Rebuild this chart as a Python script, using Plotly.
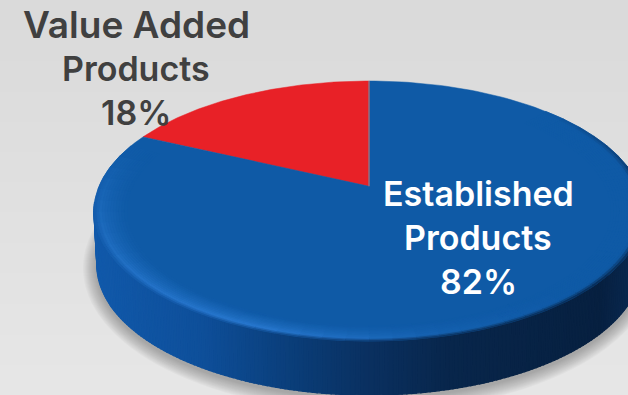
import numpy as np
import plotly.graph_objects as go

# Product mix, in percent
categories = ["Value Added Products", "Established Products"]
shares = [18, 82]
slice_colors = ["#e82127", "#0f5aa6"]
label_lines = [["Value Added", "Products"], ["Established", "Products"]]
label_colors = ["#404040", "#ffffff"]
label_centers = [136, 478]
label_baselines = [[24, 68, 112], [193, 237, 281]]
label_sizes = [[37, 34, 34], [34, 34, 34]]

W, H = 628, 395
CX, CY, RX, RY = 369, 211, 275, 130
BOTTOM_CY, BOTTOM_RX = 265, 272
TILT = 0.19  # perspective shift of the disc's centre towards the far rim


def hex_rgb(c):
    return np.array([int(c[i:i + 2], 16) for i in (1, 3, 5)], float)


def rgb(c):
    return "rgb({:.0f},{:.0f},{:.0f})".format(*c)


def mix(a, b, t):
    return a + (b - a) * t


def rim_point(theta_deg):
    """Point on the top face for a clockwise angle measured from 12 o'clock."""
    t = np.radians(theta_deg)
    u, v = np.sin(t), np.cos(t)
    d = 1 + TILT * v
    return CX + RX * u * np.sqrt(1 - TILT ** 2) / d, CY - RY * (v + TILT) / d


def cx_of(phi, s, rx):
    return CX + rx * s * np.cos(np.radians(phi))


def ellipse(phi, s=1.0, cy=CY, rx=RX, ry=RY):
    return cx_of(phi, s, rx), cy + ry * s * np.sin(np.radians(phi))


def quad(p, color, layer, width=0.8):
    path = "M" + "L".join(f"{x:.2f},{y:.2f}" for x, y in p) + "Z"
    return dict(type="path", path=path, fillcolor=color, layer=layer,
                line=dict(color=color, width=width))


# Side wall colour as it runs around the front of the disc
SIDE_STOPS_X = [94, 200, 300, 369, 450, 600, 640]
SIDE_STOPS_C = [hex_rgb(c) for c in ["#1159aa", "#0e4f9a", "#0a3c76", "#0a3060", "#08264b", "#072040", "#0a2a52"]]


def side_color(x):
    return np.array([np.interp(x, SIDE_STOPS_X, [c[i] for c in SIDE_STOPS_C]) for i in range(3)])


shapes = []

# Backdrop: soft vertical gray gradient
levels = np.arange(218, 231)
edges = np.linspace(0, H, len(levels) + 1)
for g, y0, y1 in zip(levels, edges[:-1], edges[1:]):
    shapes.append(dict(type="rect", x0=0, x1=W, y0=y0, y1=y1 + 1, layer="below",
                       fillcolor=f"rgb({g},{g},{g})", line=dict(width=0)))

# Cast shadow under the disc
for grow in range(14, 0, -1):
    shapes.append(dict(type="circle", layer="below", x0=CX - BOTTOM_RX - grow, x1=CX + BOTTOM_RX + grow,
                       y0=BOTTOM_CY + 3 - RY - grow, y1=BOTTOM_CY + 3 + RY + grow,
                       fillcolor="rgba(90,90,90,0.035)", line=dict(width=0)))

# Side wall, built as short quads along the lower half of the rim
step = 1
for phi in np.arange(-4, 184, step):
    a, b = phi, phi + step
    p = [ellipse(a), ellipse(b),
         ellipse(b, cy=BOTTOM_CY, rx=BOTTOM_RX), ellipse(a, cy=BOTTOM_CY, rx=BOTTOM_RX)]
    shapes.append(quad(p, rgb(side_color(cx_of(a + step / 2, 1, RX))), "below", width=1.4))

# Rounded bevel between the side wall and the top face
FACE = hex_rgb("#0f5aa6")
LIGHT = hex_rgb("#2a7ad2")
bands = np.linspace(1.0, 0.88, 13)


def bevel_strength(phi):
    return np.interp(phi, [-50, 40, 75, 115, 150, 185, 210], [0, 0, 0.25, 1.0, 0.75, 0.4, 0])


def outer_weight(phi):
    return np.interp(phi, [-50, -5, 180, 210], [0, 1, 1, 0])


dphi = 5
for phi in np.arange(-50, 210, dphi):
    mid = phi + dphi / 2
    hl = mix(FACE, LIGHT, bevel_strength(mid))
    outer = mix(hl, side_color(cx_of(mid, 1, RX)), outer_weight(mid))
    for s0, s1 in zip(bands[:-1], bands[1:]):
        depth = (1.0 - (s0 + s1) / 2) / 0.12
        if depth < 0.22:
            c = mix(outer, hl, (depth / 0.22) ** 0.8)
        else:
            c = mix(hl, FACE, ((depth - 0.22) / 0.78) ** 0.7)
        p = [ellipse(phi, s0), ellipse(phi + dphi, s0), ellipse(phi + dphi, s1), ellipse(phi, s1)]
        shapes.append(quad(p, rgb(c), "above"))

fig = go.Figure()

# Slices of the top face; the first one ends at 12 o'clock
start_angle = -360 * shares[0] / sum(shares)
apex_xy = (CX, CY - RY * TILT)
for share, name, color in zip(shares, categories, slice_colors):
    sweep = 360 * share / sum(shares)
    thetas = np.linspace(start_angle, start_angle + sweep, 181)
    xs, ys = rim_point(thetas)
    fig.add_trace(go.Scatter(
        x=[apex_xy[0], *xs, apex_xy[0]], y=[apex_xy[1], *ys, apex_xy[1]],
        mode="lines", fill="toself", fillcolor=color,
        line=dict(color=color, width=0.5), name=name, hoverinfo="name", showlegend=False))
    start_angle += sweep

# Thin seam where the slices meet at 12 o'clock
top_x, top_y = rim_point(0.0)
fig.add_trace(go.Scatter(x=[apex_xy[0], top_x], y=[apex_xy[1], top_y], mode="lines",
                         line=dict(color="#a5707c", width=1.4), hoverinfo="skip", showlegend=False))

annotations = []
for lines, share, color, xc, baselines, sizes in zip(label_lines, shares, label_colors, label_centers,
                                                     label_baselines, label_sizes):
    for text, yc, size in zip([*lines, f"{share}%"], baselines, sizes):
        annotations.append(dict(x=xc, y=yc, text=text, showarrow=False, xanchor="center", yanchor="middle",
                                font=dict(family="Inter", size=size, color=color, weight=600)))

fig.update_layout(
    width=W, height=H, autosize=False, margin=dict(l=0, r=0, t=0, b=0, pad=0),
    paper_bgcolor="#dedede", plot_bgcolor="rgba(0,0,0,0)",
    xaxis=dict(range=[0, W], visible=False, fixedrange=True),
    yaxis=dict(range=[H, 0], visible=False, fixedrange=True),
    shapes=shapes, annotations=annotations, showlegend=False,
)
fig.write_html("out.html", config=dict(displayModeBar=False))
